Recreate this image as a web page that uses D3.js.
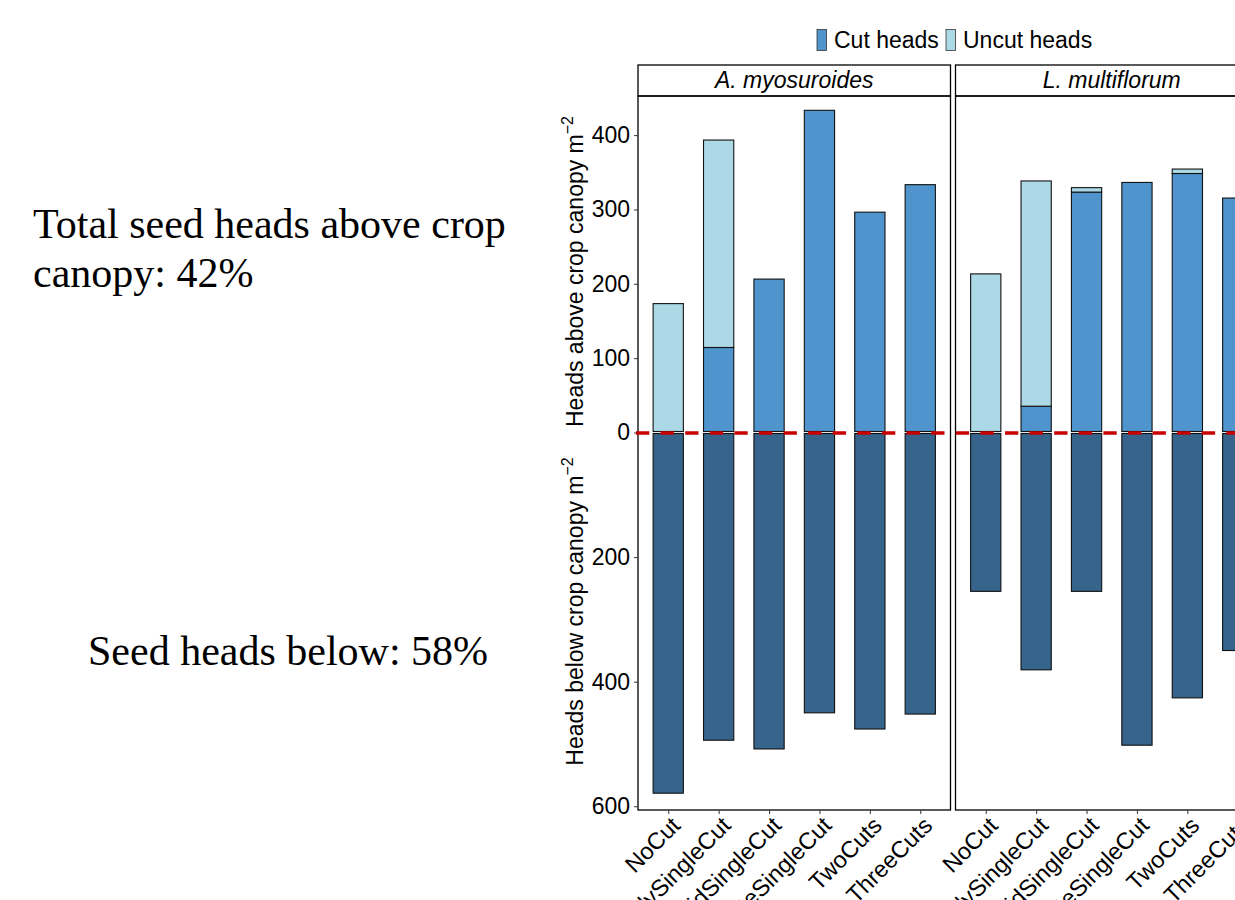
<!DOCTYPE html>
<html>
<head>
<meta charset="utf-8">
<script src="https://cdn.jsdelivr.net/npm/d3@7"></script>
<style>
  body { margin: 0; background: #fff; overflow: hidden; }
  svg { display: block; }
</style>
</head>
<body>
<div id="chart"></div>
<script>
// data (heads per m2)
const treatments = ["NoCut", "EarlySingleCut", "MidSingleCut", "LateSingleCut", "TwoCuts", "ThreeCuts"];
const species = ["A. myosuroides", "L. multiflorum"];
const cutAbove = [
  [0, 113, 205, 432, 295, 332],
  [0, 34, 322, 335, 347, 314]
];
const uncutAbove = [
  [172, 279, 0, 0, 0, 0],
  [212, 303, 6, 0, 6, 0]
];
const headsBelow = [
  [579, 494, 508, 450, 476, 452],
  [255, 381, 255, 502, 426, 350]
];
const aboveTicks = [0, 100, 200, 300, 400];
const belowTicks = [200, 400, 600];
const legendLabels = ["Cut heads", "Uncut heads"];

const W = 1235, H = 900;
const sans = "'Liberation Sans', Arial, Helvetica, sans-serif";
const serif = "'Liberation Serif', 'Times New Roman', serif";
const colCut = "#4f94cd", colUncut = "#add8e6", colBelow = "#36648b";

const svg = d3.select("#chart").append("svg")
    .attr("width", W)
    .attr("height", H);

// panel geometry
const panelTop = 96, panelBottom = 810, stripTop = 65;
const panelLeft = 638, panelW = 312.5, gap = 5;
const zeroY = 432.5;

const yAbove = d3.scaleLinear().domain([0, 452.6]).range([zeroY, panelTop]);
const yBelow = d3.scaleLinear().domain([0, 606]).range([zeroY, panelBottom]);
const x = d3.scalePoint().domain(treatments).range([0, panelW]).padding(0.6);
const barW = x.step() * 0.6;

// left hand annotations
svg.append("text")
    .attr("x", 33).attr("y", 238)
    .style("font-family", serif).style("font-size", "42px")
    .text("Total seed heads above crop");
svg.append("text")
    .attr("x", 33).attr("y", 287)
    .style("font-family", serif).style("font-size", "42px")
    .text("canopy: 42%");
svg.append("text")
    .attr("x", 88).attr("y", 665)
    .style("font-family", serif).style("font-size", "42px")
    .text("Seed heads below: 58%");

// legend
const legend = svg.append("g").style("font-family", sans).style("font-size", "23px");
const legX = [817, 946];
legendLabels.forEach((lab, i) => {
  legend.append("rect")
      .attr("x", legX[i]).attr("y", 29.5)
      .attr("width", 9.5).attr("height", 21)
      .attr("fill", i === 0 ? colCut : colUncut)
      .attr("stroke", "#333").attr("stroke-width", 0.8);
  legend.append("text")
      .attr("x", legX[i] + 17).attr("y", 48)
      .text(lab);
});

species.forEach((sp, s) => {
  const g = svg.append("g")
      .attr("transform", `translate(${panelLeft + s * (panelW + gap)},0)`);

  // strip
  g.append("rect")
      .attr("x", 0).attr("y", stripTop)
      .attr("width", panelW).attr("height", panelTop - stripTop)
      .attr("fill", "#fff").attr("stroke", "#000").attr("stroke-width", 1.3);
  g.append("text")
      .attr("x", panelW / 2).attr("y", 88)
      .attr("text-anchor", "middle")
      .style("font-family", sans).style("font-size", "23px").style("font-style", "italic")
      .text(sp);

  // below canopy bars
  g.append("g").selectAll("rect")
    .data(treatments)
    .join("rect")
      .attr("x", d => x(d) - barW / 2)
      .attr("y", yBelow(0) + 1)
      .attr("width", barW)
      .attr("height", (d, i) => yBelow(headsBelow[s][i]) - yBelow(0) - 1)
      .attr("fill", colBelow)
      .attr("stroke", "#111").attr("stroke-width", 1.1);

  // cut heads above canopy
  g.append("g").selectAll("rect")
    .data(treatments)
    .join("rect")
      .attr("x", d => x(d) - barW / 2)
      .attr("y", (d, i) => yAbove(cutAbove[s][i]) - 1)
      .attr("width", barW)
      .attr("height", (d, i) => yAbove(0) - yAbove(cutAbove[s][i]))
      .attr("fill", colCut)
      .attr("stroke", "#111").attr("stroke-width", 1.1);

  // uncut heads stacked on top
  g.append("g").selectAll("rect")
    .data(treatments.filter((d, i) => uncutAbove[s][i] > 0))
    .join("rect")
      .attr("x", d => x(d) - barW / 2)
      .attr("y", d => {
        const i = treatments.indexOf(d);
        return yAbove(cutAbove[s][i] + uncutAbove[s][i]) - 1;
      })
      .attr("width", barW)
      .attr("height", d => {
        const i = treatments.indexOf(d);
        return yAbove(cutAbove[s][i]) - yAbove(cutAbove[s][i] + uncutAbove[s][i]);
      })
      .attr("fill", colUncut)
      .attr("stroke", "#111").attr("stroke-width", 1.1);

  // panel border
  g.append("rect")
      .attr("x", 0).attr("y", panelTop)
      .attr("width", panelW).attr("height", panelBottom - panelTop)
      .attr("fill", "none").attr("stroke", "#000").attr("stroke-width", 1.3);

  // x axis
  const xAxis = g.append("g")
      .attr("transform", `translate(0,${panelBottom})`)
      .call(d3.axisBottom(x).tickSize(4).tickPadding(0));
  xAxis.select(".domain").remove();
  xAxis.selectAll(".tick line").attr("stroke", "#333");
  xAxis.selectAll(".tick text")
      .attr("y", 0).attr("dy", 0)
      .attr("transform", "translate(13,17) rotate(-45)")
      .attr("text-anchor", "end")
      .attr("fill", "#000")
      .style("font-family", sans).style("font-size", "23.5px");
});

// y axes
const yAxisA = svg.append("g")
    .attr("transform", `translate(${panelLeft},0)`)
    .call(d3.axisLeft(yAbove).tickValues(aboveTicks).tickSize(4).tickPadding(4));
const yAxisB = svg.append("g")
    .attr("transform", `translate(${panelLeft},0)`)
    .call(d3.axisLeft(yBelow).tickValues(belowTicks).tickSize(4).tickPadding(4));
[yAxisA, yAxisB].forEach(a => {
  a.select(".domain").remove();
  a.selectAll(".tick line").attr("stroke", "#333");
  a.selectAll(".tick text")
      .attr("fill", "#000")
      .style("font-family", sans).style("font-size", "23px");
});

// y titles
[["Heads above crop canopy m", 271.5], ["Heads below crop canopy m", 611.5]].forEach(([t, cy]) => {
  const tt = svg.append("text")
      .attr("transform", `translate(583,${cy}) rotate(-90)`)
      .attr("text-anchor", "middle")
      .style("font-family", sans).style("font-size", "23px")
      .text(t);
  tt.append("tspan")
      .attr("dy", -10)
      .style("font-size", "16px")
      .text("\u22122");
});

// red dashed zero line
svg.append("line")
    .attr("x1", panelLeft - 2).attr("x2", W + 40)
    .attr("y1", zeroY + 0.5).attr("y2", zeroY + 0.5)
    .attr("stroke", "#c80000").attr("stroke-width", 3.5)
    .attr("stroke-dasharray", "13.3,11.3");
</script>
</body>
</html>
